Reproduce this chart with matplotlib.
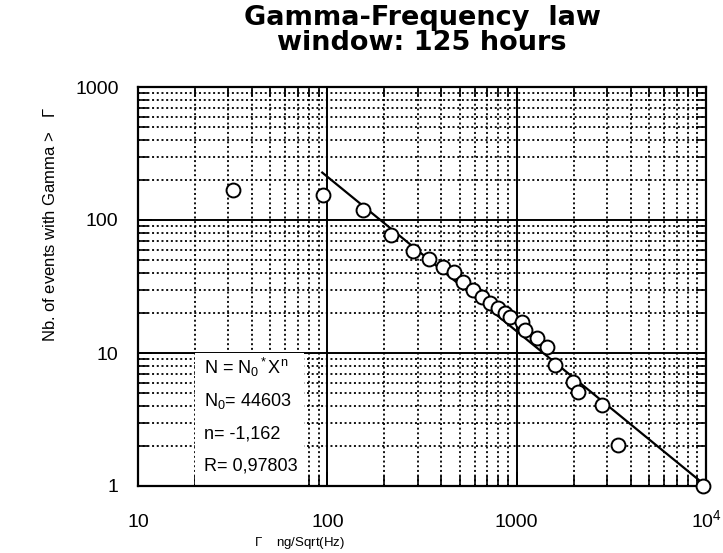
import matplotlib
matplotlib.use("Agg")
import matplotlib.pyplot as plt
from matplotlib.ticker import LogLocator, NullFormatter, FixedLocator
from matplotlib.patches import Rectangle
from matplotlib.transforms import ScaledTranslation
import numpy as np

plt.rcParams['font.family'] = ['Liberation Sans', 'DejaVu Sans']
plt.rcParams['mathtext.fontset'] = 'custom'
plt.rcParams['mathtext.rm'] = 'Liberation Sans'
plt.rcParams['mathtext.it'] = 'Liberation Sans'

# data (Gamma in ng/sqrt(Hz), number of events with Gamma > value)
gamma = [31.8, 94.8, 154, 217, 284, 344, 408, 467, 521, 589, 657, 724, 798,
         869, 923, 1069, 1107, 1282, 1449, 1597, 1986, 2108, 2823, 3435, 9600]
counts = [168, 154, 119, 77, 58.5, 51, 44.4, 40.6, 34.2, 29.8, 26.4, 23.8, 21.8,
          20.0, 18.7, 17.1, 14.9, 13.0, 11.1, 8.1, 6.05, 5.09, 4.06, 2.03, 1.0]
N0 = 44603
n_exp = -1.162
R = 0.97803
fit_range = [94, 10000]

x_ticks = [10, 100, 1000, 10000]
x_ticklabels = ['10', '100', '1000', r'$10^4$']
y_ticks = [1, 10, 100, 1000]
y_ticklabels = ['1', '10', '100', '1000']

W, H = 723, 553
fig = plt.figure(figsize=(W / 100, H / 100), dpi=100)
ax = fig.add_axes([138 / W, 1 - 486 / H, (706 - 138) / W, (486 - 87) / H])
ax.set_xscale('log')
ax.set_yscale('log')
ax.set_xlim(10, 10000)
ax.set_ylim(1, 1000)

ax.xaxis.set_major_locator(FixedLocator(x_ticks))
ax.set_xticklabels(x_ticklabels)
ax.yaxis.set_major_locator(FixedLocator(y_ticks))
ax.set_yticklabels(y_ticklabels)
ax.xaxis.set_minor_locator(LogLocator(base=10, subs=np.arange(2, 10)))
ax.yaxis.set_minor_locator(LogLocator(base=10, subs=np.arange(2, 10)))
ax.xaxis.set_minor_formatter(NullFormatter())
ax.yaxis.set_minor_formatter(NullFormatter())

ax.grid(which='major', color='black', linestyle='-', linewidth=1.4, zorder=1)
ax.grid(which='minor', color='black', linestyle=(0, (1.1, 1.5)), linewidth=1.3, zorder=1)
ax.set_axisbelow(True)

ax.tick_params(which='both', direction='in', top=True, right=True, colors='black')
ax.tick_params(which='major', length=10, width=1.4, labelsize=14, pad=14)
ax.tick_params(which='minor', length=7, width=1.2)
ax.tick_params(axis='x', which='major', pad=20)
for s in ax.spines.values():
    s.set_linewidth(1.6)

# lift the mathtext 10^4 label so its "10" sits on the same baseline
lab = ax.get_xticklabels()[-1]
lab.set_transform(lab.get_transform() + ScaledTranslation(0, 5 / 100, fig.dpi_scale_trans))

# white box behind the fit text
ax.add_patch(Rectangle((20, 1), 55, 9, facecolor='white', edgecolor='none',
                       zorder=1.5))

xf = np.array(fit_range, dtype=float)
ax.plot(xf, N0 * xf ** n_exp, color='black', linewidth=1.6, zorder=3)
ax.plot(gamma, counts, linestyle='none', marker='o', markersize=10,
        markerfacecolor='white', markeredgecolor='black', markeredgewidth=1.4,
        zorder=4, clip_on=False)

tx = 204 / W
fs = 13
fig.text(tx, 1 - 367 / H, r'N = N$_0$$^*$X$^n$', fontsize=fs, va='center')
fig.text(tx, 1 - 401 / H, r'N$_0$= %d' % N0, fontsize=fs, va='center')
fig.text(tx, 1 - 434 / H, 'n= ' + ('%.3f' % n_exp).replace('.', ','), fontsize=fs, va='center')
fig.text(tx, 1 - 466 / H, 'R= ' + ('%.5f' % R).replace('.', ','), fontsize=fs, va='center')

tfont = dict(fontsize=19.5, fontweight='bold', family=['DejaVu Sans'],
             ha='center', va='center')
fig.text(422 / W, 1 - 18 / H, 'Gamma-Frequency  law', **tfont)
fig.text(422 / W, 1 - 43 / H, 'window: 125 hours', **tfont)

fig.text(50 / W, 1 - 225 / H, r'Nb. of events with Gamma >   $\Gamma$', fontsize=12,
         rotation=90, ha='center', va='center')
fig.text(299 / W, 1 - 543 / H, r'$\Gamma$    ng/Sqrt(Hz)', fontsize=9.5,
         ha='center', va='center')

fig.savefig('out.png', dpi=100)
